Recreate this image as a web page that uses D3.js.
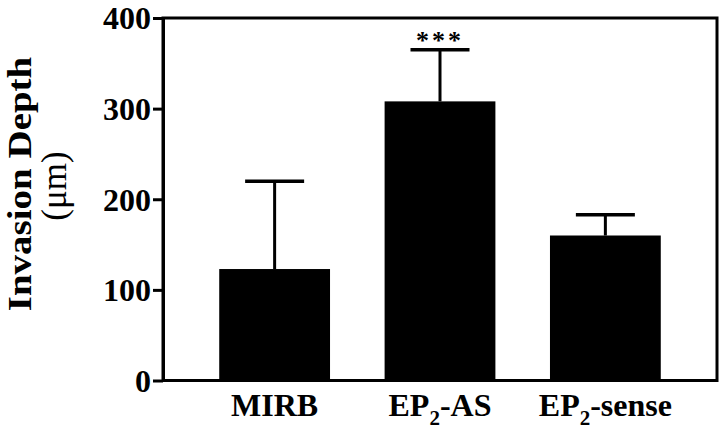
<!DOCTYPE html>
<html><head><meta charset="utf-8">
<script src="https://cdn.jsdelivr.net/npm/d3@7"></script>
<style>
html,body{margin:0;padding:0;background:#fff;}
svg{display:block;}
</style></head>
<body>
<svg id="chart" width="720" height="429"></svg>
<script>
const categories = ["MIRB", "EP2-AS", "EP2-sense"];
const means = [123, 308, 160];
const errors = [97, 57, 23];
const significance = ["", "***", ""];
const yTicks = [0, 100, 200, 300, 400];

const FONT = "'Liberation Serif', 'Times New Roman', Times, serif";
const svg = d3.select("#chart");
const pLeft = 163, pRight = 717, pTop = 18, pBottom = 380.5;

const x = d3.scaleBand().domain(categories).range([pLeft, pRight]).paddingInner(0.33).paddingOuter(0.34);
const y = d3.scaleLinear().domain([0, 400]).range([pBottom, pTop]);

// bars
svg.selectAll("rect.bar").data(categories).enter().append("rect")
  .attr("class","bar")
  .attr("x", d => x(d))
  .attr("width", x.bandwidth())
  .attr("y", (d,i) => y(means[i]))
  .attr("height", (d,i) => y(0) - y(means[i]))
  .attr("fill", "#000");

// error bars (upper only)
const capW = 59;
svg.selectAll("line.err").data(categories).enter().append("line")
  .attr("x1", d => x(d) + x.bandwidth()/2).attr("x2", d => x(d) + x.bandwidth()/2)
  .attr("y1", (d,i) => y(means[i])).attr("y2", (d,i) => y(means[i] + errors[i]))
  .attr("stroke", "#000").attr("stroke-width", 3);
svg.selectAll("line.cap").data(categories).enter().append("line")
  .attr("x1", d => x(d) + x.bandwidth()/2 - capW/2).attr("x2", d => x(d) + x.bandwidth()/2 + capW/2)
  .attr("y1", (d,i) => y(means[i] + errors[i])).attr("y2", (d,i) => y(means[i] + errors[i]))
  .attr("stroke", "#000").attr("stroke-width", 3.5);

// significance
svg.selectAll("text.sig").data(categories).enter().append("text")
  .attr("x", d => x(d) + x.bandwidth()/2)
  .attr("y", (d,i) => y(means[i] + errors[i]) - 1)
  .attr("text-anchor", "middle")
  .style("font-family", FONT)
  .style("font-size", "26px").style("font-weight", "bold")
  .style("letter-spacing", "3px")
  .text((d,i) => significance[i]);

// frame
svg.append("rect").attr("x", pLeft).attr("y", pTop).attr("width", pRight-pLeft).attr("height", pBottom-pTop)
  .attr("fill","none").attr("stroke","#000").attr("stroke-width",3);

// y axis
const yAxis = svg.append("g").attr("transform", `translate(${pLeft},0)`)
  .call(d3.axisLeft(y).tickValues(yTicks).tickSize(10).tickSizeOuter(0).tickPadding(2));
yAxis.attr("font-family", null);
yAxis.select(".domain").attr("stroke-width", 3);
yAxis.selectAll(".tick line").attr("stroke-width", 3);
yAxis.selectAll(".tick text")
  .style("font-family", FONT)
  .style("font-size", "32px").style("font-weight", "bold")
  .attr("dy", "0.34em");

// x labels
const xl = svg.selectAll("text.xl").data(categories).enter().append("text")
  .attr("x", d => x(d) + x.bandwidth()/2)
  .attr("y", 416)
  .attr("text-anchor", "middle")
  .style("font-family", FONT)
  .style("font-size", "32px").style("font-weight", "bold");
xl.each(function(d){
  const t = d3.select(this);
  const m = d.match(/^EP2(.*)$/);
  if (m) {
    t.append("tspan").text("EP");
    t.append("tspan").text("2").style("font-size","21px").attr("dy", 9);
    t.append("tspan").text(m[1]).attr("dy", -9);
  } else t.text(d);
});

// y title
svg.append("text").attr("transform", "translate(31,184) rotate(-90) scale(1,0.88)")
  .attr("text-anchor","middle")
  .style("font-family", FONT)
  .style("font-size","39px").style("font-weight","bold")
  .text("Invasion Depth");
svg.append("text").attr("transform", "translate(66,186) rotate(-90)")
  .attr("text-anchor","middle")
  .style("font-family", FONT)
  .style("font-size","35px")
  .text("(μm)");
</script>
</body></html>
